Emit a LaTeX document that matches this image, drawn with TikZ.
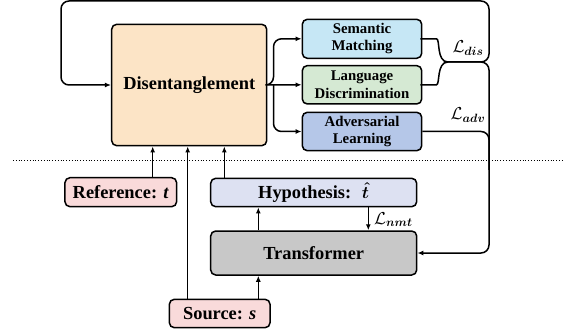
\documentclass[tikz,border=0pt]{standalone}
\usepackage{amssymb}
\usepackage{amsmath}
\usepackage{fontspec}
\setmainfont{Liberation Serif}
\usetikzlibrary{arrows.meta}

\definecolor{disfill}{HTML}{FCE4C6}
\definecolor{semfill}{HTML}{C6E7F5}
\definecolor{langfill}{HTML}{D5E9D3}
\definecolor{advfill}{HTML}{B5C7E8}
\definecolor{inpfill}{HTML}{F9DADA}
\definecolor{hypfill}{HTML}{DDE1F2}
\definecolor{trfill}{HTML}{C8C8C8}

\begin{document}
\begin{tikzpicture}[x=1pt,y=-1pt]
            \tikzstyle{every node}+=[inner sep=0pt]
            \tikzstyle{blk}=[draw=black, line width=1.5pt, rounded corners=5pt, align=center, font=\bfseries]
            \tikzstyle{small}=[font=\fontsize{14.8}{17.4}\selectfont\bfseries]
            \tikzstyle{big}=[font=\fontsize{18.4}{21}\selectfont\bfseries]
            \tikzstyle{wire}=[black, line width=1.5pt, rounded corners=8pt]
            \tikzstyle{arr}=[wire, -{Latex[length=6pt,width=5pt]}]
            \tikzstyle{loss}=[font=\fontsize{17}{19}\selectfont]
            \useasboundingbox (0,0) rectangle (567,331);
            \node [blk, big, fill=disfill, minimum width=155pt, minimum height=121.4pt] (dis) at (189.2,85) {Disentanglement};
            \node [blk, small, fill=semfill, minimum width=119.4pt, minimum height=39pt] (sem) at (362,38.8) {Semantic\\Matching};
            \node [blk, small, fill=langfill, minimum width=119.4pt, minimum height=38.4pt] (lang) at (362,84.8) {Language\\Discrimination};
            \node [blk, small, fill=advfill, minimum width=119.4pt, minimum height=38.4pt] (adv) at (362,131.5) {Adversarial\\Learning};
            \node [blk, big, fill=inpfill, minimum width=111.7pt, minimum height=29pt] (ref) at (120.8,192.2) {Reference: \textit{t}};
            \node [blk, big, fill=hypfill, minimum width=206pt, minimum height=28.4pt] (hyp) at (313.7,192.5) {Hypothesis: \ $\boldsymbol{\hat{t}}$};
            \node [blk, big, fill=trfill, minimum width=206pt, minimum height=44pt] (trans) at (313.7,253) {Transformer};
            \node [blk, big, fill=inpfill, minimum width=100.7pt, minimum height=28.4pt] (src) at (219.7,313.5) {Source: \textit{s}};
            \coordinate (jn) at (448,62);
            \coordinate (rtop) at (489,1);
            \coordinate (ltop) at (61,1);
            \coordinate (rmid) at (489,62);
            \coordinate (fork) at (273.5,85);
            \coordinate (refout) at ([xshift=31.9pt]ref.north);
            \coordinate (srcup) at ([xshift=-32pt]src.north);
            \coordinate (srcin) at ([xshift=38.6pt]src.north);
            \coordinate (hypout) at ([xshift=-89.4pt]hyp.north);
            \coordinate (nmt) at ([xshift=54.6pt]hyp.south);
            \draw [black, line width=0.8pt, dotted] (13,160) -- (563,160);
            \draw [arr] (dis.east) -- (fork) |- (sem.west);
            \draw [arr] (dis.east) -- (lang.west);
            \draw [arr] (fork) |- (adv.west);
            \draw [wire] (sem.east) -- ++(6,0) to [out=0, in=180] (jn);
            \draw [wire] (lang.east) -- ++(6,0) to [out=0, in=180] (jn);
            \draw [arr] (jn) -- (rmid) -- (rtop) -- (ltop) |- (dis.west);
            \draw [arr] (jn) -- (rmid) |- (trans.east);
            \draw [wire] (adv.east) -| (489,170);
            \draw (468,48) node [loss] {$\mathcal{L}_{\boldsymbol{dis}}$};
            \draw (468,115) node [loss] {$\mathcal{L}_{\boldsymbol{adv}}$};
            \draw [arr] (refout) -- (refout |- dis.south);
            \draw [arr] (srcup) -- (srcup |- dis.south);
            \draw [arr] (hypout) -- (hypout |- dis.south);
            \draw [arr] (srcin) -- (srcin |- trans.south);
            \draw [arr] (srcin |- trans.north) -- (srcin |- hyp.south);
            \draw [arr] (nmt) -- (nmt |- trans.north);
            \draw (374,219.5) node [loss, anchor=west] {$\mathcal{L}_{\boldsymbol{nmt}}$};
            \end{tikzpicture}
\end{document}
